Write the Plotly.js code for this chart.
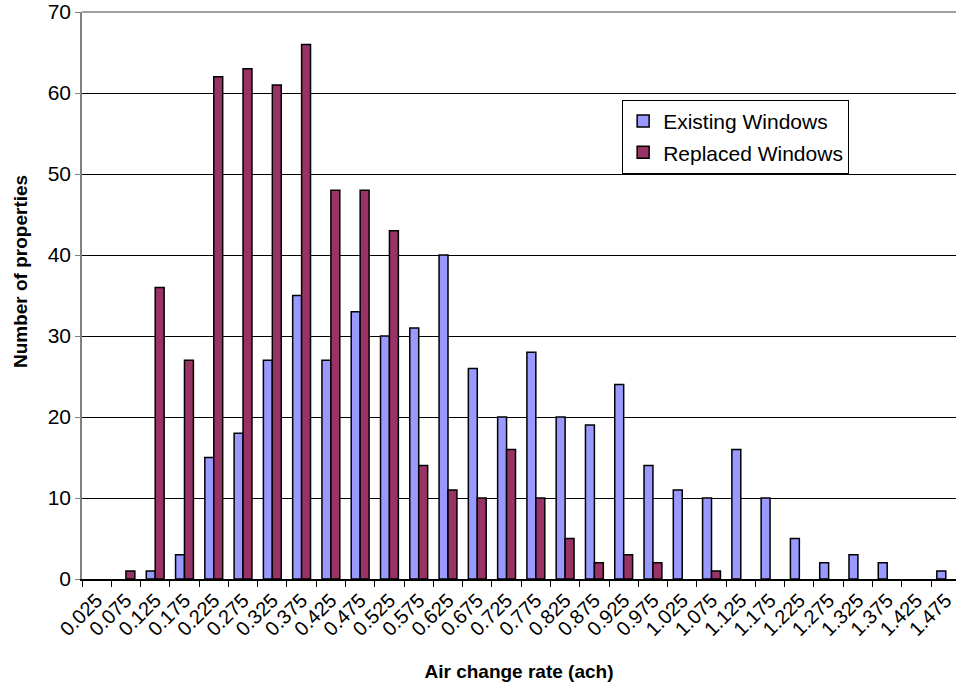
<!DOCTYPE html>
<html>
<head>
<meta charset="utf-8">
<script src="https://cdn.plot.ly/plotly-3.0.1.min.js"></script>
<style>
  html, body { margin: 0; padding: 0; background: #ffffff; overflow: hidden; }
  #chart { width: 956px; height: 685px; }
</style>
</head>
<body>
<div id="chart"></div>
<script>
// Air change rate bins (ach)
const rateBins = [
  "0.025", "0.075", "0.125", "0.175", "0.225", "0.275", "0.325", "0.375", "0.425", "0.475",
  "0.525", "0.575", "0.625", "0.675", "0.725", "0.775", "0.825", "0.875", "0.925", "0.975",
  "1.025", "1.075", "1.125", "1.175", "1.225", "1.275", "1.325", "1.375", "1.425", "1.475"
];

// Number of properties in each bin
const existingWindows = [
  0, 0, 1, 3, 15, 18, 27, 35, 27, 33,
  30, 31, 40, 26, 20, 28, 20, 19, 24, 14,
  11, 10, 16, 10, 5, 2, 3, 2, 0, 1
];
const replacedWindows = [
  0, 1, 36, 27, 62, 63, 61, 66, 48, 48,
  43, 14, 11, 10, 16, 10, 5, 2, 3, 2,
  0, 1, 0, 0, 0, 0, 0, 0, 0, 0
];

const yTicks = [0, 10, 20, 30, 40, 50, 60, 70];

const font = "Liberation Sans, Arial, sans-serif";

// empty bins are left out so no outline is drawn on the baseline
const skipEmpty = v => (v === 0 ? null : v);

const traces = [
  {
    type: "bar",
    name: "Existing Windows",
    x: rateBins,
    y: existingWindows.map(skipEmpty),
    legendgroup: "existing",
    marker: { color: "#9999FF", line: { color: "#000000", width: 1.5 } },
    hoverinfo: "x+y+name"
  },
  {
    type: "bar",
    name: "Replaced Windows",
    x: rateBins,
    y: replacedWindows.map(skipEmpty),
    legendgroup: "replaced",
    marker: { color: "#993366", line: { color: "#000000", width: 1.5 } },
    hoverinfo: "x+y+name"
  }
];

const layout = {
  width: 956,
  height: 685,
  margin: { l: 82, r: 0, t: 12, b: 106, pad: 0 },
  paper_bgcolor: "#ffffff",
  plot_bgcolor: "#ffffff",
  font: { family: font, color: "#000000", size: 20 },
  barmode: "group",
  bargap: 0.39,
  bargroupgap: 0,
  showlegend: true,
  legend: {
    x: 0.618, y: 0.845, xanchor: "left", yanchor: "top",
    bgcolor: "#ffffff",
    bordercolor: "#000000",
    borderwidth: 1,
    font: { family: font, size: 21, color: "#000000" },
    traceorder: "grouped",
    tracegroupgap: 1,
    itemwidth: 30
  },
  xaxis: {
    type: "category",
    range: [-0.5, 29.35],
    tickson: "boundaries",
    ticks: "outside",
    ticklen: 6,
    tickcolor: "#000000",
    tickangle: -45,
    tickfont: { family: font, size: 20, color: "#000000" },
    showline: true,
    linecolor: "#000000",
    linewidth: 1.5,
    showgrid: false,
    zeroline: false,
    fixedrange: true,
    title: {
      text: "<b>Air change rate (ach)</b>",
      font: { family: font, size: 19, color: "#000000" },
      standoff: 26
    }
  },
  yaxis: {
    range: [0, 70],
    tickvals: yTicks,
    ticktext: yTicks.map(String),
    ticks: "outside",
    ticklen: 5,
    tickcolor: "#808080",
    tickfont: { family: font, size: 21, color: "#000000" },
    showline: true,
    linecolor: "#808080",
    linewidth: 1.5,
    showgrid: true,
    gridcolor: "#000000",
    gridwidth: 1,
    zeroline: false,
    fixedrange: true
  },
  annotations: [
    {
      text: "<b>Number of properties</b>",
      xref: "paper", yref: "paper",
      x: -0.071, y: 0.543,
      xanchor: "center", yanchor: "middle",
      textangle: -90,
      showarrow: false,
      font: { family: font, size: 19, color: "#000000" }
    }
  ],
  shapes: [
    {
      type: "line", xref: "paper", yref: "paper",
      x0: 0, x1: 1, y0: 1, y1: 1,
      line: { color: "#808080", width: 1.5 }
    }
  ]
};

Plotly.newPlot("chart", traces, layout, { displayModeBar: false, responsive: false });
</script>
</body>
</html>
